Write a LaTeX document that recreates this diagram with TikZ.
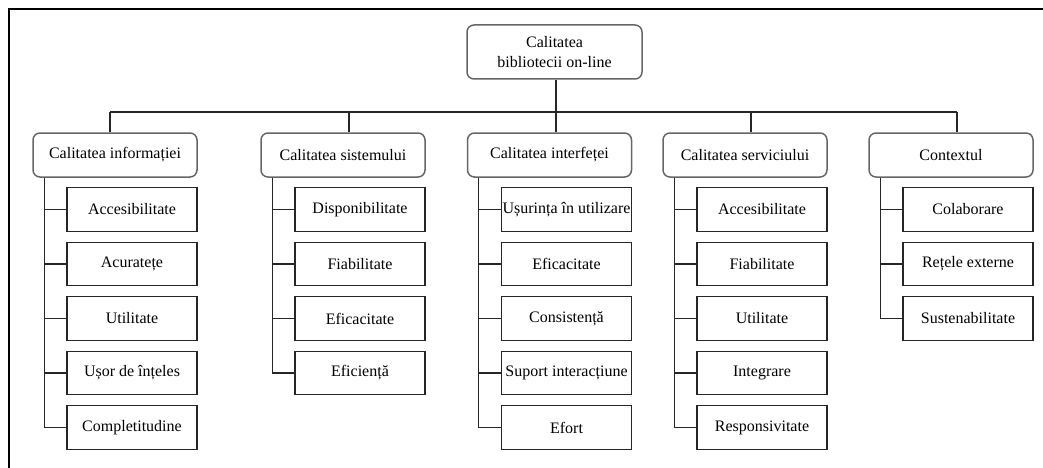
\documentclass[tikz,border=0pt]{standalone}
\usepackage{fontspec}
\setmainfont{Liberation Serif}
\begin{document}
\begin{tikzpicture}[x=1pt,y=-1pt,
  frame/.style={line width=2pt,black},
  conn/.style={line width=1.3pt,black!85},
  topbox/.style={draw=black!60,line width=1.5pt,rounded corners=7pt,minimum width=164pt,minimum height=44pt,inner sep=0pt,font=\fontsize{16}{20}\selectfont},
  rootbox/.style={topbox,minimum width=175pt,minimum height=54pt,align=center},
  leaf/.style={draw=black!85,line width=1.4pt,minimum width=130pt,minimum height=43.5pt,inner sep=0pt,font=\fontsize{16}{20}\selectfont}]
\useasboundingbox (0,0) rectangle (1043,468);
\coordinate (f1) at (9,468);
\coordinate (f2) at (9,9);
\coordinate (f3) at (1043,9);
\draw[frame] (f1) -- (f2) -- (f3);
% root
\node[rootbox] (root) at (554.5,52) {Calitatea\\bibliotecii on-line};
% level 1
\node[topbox] (c1) at (115,155) {Calitatea informației};
\node[topbox] (c2) at (343,155) {Calitatea sistemului};
\node[topbox] (c3) at (549.5,155) {Calitatea interfeței};
\node[topbox] (c4) at (745,155) {Calitatea serviciului};
\node[topbox] (c5) at (951,155) {Contextul};
% bar
\coordinate (bL) at (110,112);
\coordinate (bR) at (957,112);
\draw[conn] (bL) -- (bR);
\draw[conn] ([xshift=1.5pt]root.south) -- ([xshift=1.5pt]root.south |- bL);
\draw[conn] ([xshift=-5pt]c1.north) -- ([xshift=-5pt]c1.north |- bL);
\draw[conn] ([xshift=6pt]c2.north) -- ([xshift=6pt]c2.north |- bL);
\draw[conn] ([xshift=6.5pt]c3.north) -- ([xshift=6.5pt]c3.north |- bL);
\draw[conn] ([xshift=6pt]c4.north) -- ([xshift=6pt]c4.north |- bL);
\draw[conn] ([xshift=6pt]c5.north) -- ([xshift=6pt]c5.north |- bL);
% leaves group 1
\node[leaf] (a1) at (132,209.5) {Accesibilitate};
\node[leaf] (a2) at (132,264) {Acuratețe};
\node[leaf] (a3) at (132,318.5) {Utilitate};
\node[leaf] (a4) at (132,373) {Ușor de înțeles};
\node[leaf] (a5) at (132,427.5) {Completitudine};
% group 2
\node[leaf] (b1) at (360,209.5) {Disponibilitate};
\node[leaf] (b2) at (360,264) {Fiabilitate};
\node[leaf] (b3) at (360,318.5) {Eficacitate};
\node[leaf] (b4) at (360,373) {Eficiență};
% group 3
\node[leaf] (d1) at (566.5,209.5) {Ușurința în utilizare};
\node[leaf] (d2) at (566.5,264) {Eficacitate};
\node[leaf] (d3) at (566.5,318.5) {Consistență};
\node[leaf] (d4) at (566.5,373) {Suport interacțiune};
\node[leaf] (d5) at (566.5,427.5) {Efort};
% group 4
\node[leaf] (e1) at (762,209.5) {Accesibilitate};
\node[leaf] (e2) at (762,264) {Fiabilitate};
\node[leaf] (e3) at (762,318.5) {Utilitate};
\node[leaf] (e4) at (762,373) {Integrare};
\node[leaf] (e5) at (762,427.5) {Responsivitate};
% group 5
\node[leaf] (g1) at (968,209.5) {Colaborare};
\node[leaf] (g2) at (968,264) {Rețele externe};
\node[leaf] (g3) at (968,318.5) {Sustenabilitate};
% spines
\coordinate (s1) at ([xshift=12pt]c1.south west);
\coordinate (s2) at ([xshift=12pt]c2.south west);
\coordinate (s3) at ([xshift=12pt]c3.south west);
\coordinate (s4) at ([xshift=12pt]c4.south west);
\coordinate (s5) at ([xshift=12pt]c5.south west);
\draw[conn] (s1) |- (a5.west);
\foreach \n in {a1,a2,a3,a4} \draw[conn] (s1 |- \n.west) -- (\n.west);
\draw[conn] (s2) |- (b4.west);
\foreach \n in {b1,b2,b3} \draw[conn] (s2 |- \n.west) -- (\n.west);
\draw[conn] (s3) |- (d5.west);
\foreach \n in {d1,d2,d3,d4} \draw[conn] (s3 |- \n.west) -- (\n.west);
\draw[conn] (s4) |- (e5.west);
\foreach \n in {e1,e2,e3,e4} \draw[conn] (s4 |- \n.west) -- (\n.west);
\draw[conn] (s5) |- (g3.west);
\foreach \n in {g1,g2} \draw[conn] (s5 |- \n.west) -- (\n.west);
\end{tikzpicture}
\end{document}
